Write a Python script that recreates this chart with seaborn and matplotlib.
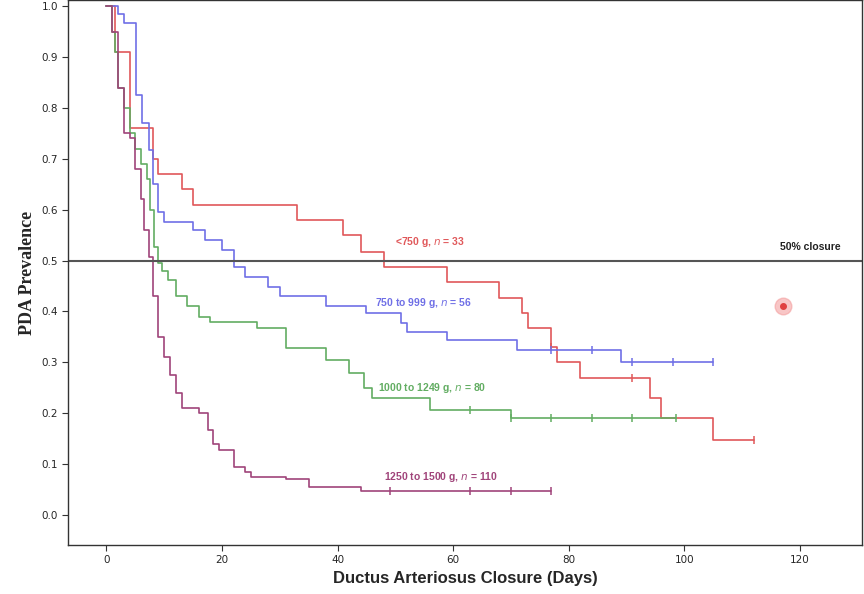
import numpy as np
import pandas as pd
import matplotlib
matplotlib.use("Agg")
import matplotlib.pyplot as plt
import seaborn as sns

# Kaplan-Meier style curves: event times (days) and prevalence after each step
red_t = [0, 1.5, 4, 8.1, 9, 13, 15, 33, 41, 44, 48, 59, 68, 72, 73, 77, 78, 82, 94, 96, 105, 112]
red_v = [1.0, 0.91, 0.76, 0.70, 0.67, 0.64, 0.61, 0.58, 0.55, 0.517, 0.487, 0.458, 0.426, 0.397,
         0.367, 0.33, 0.30, 0.27, 0.23, 0.19, 0.147, 0.147]
red_c = [77, 91, 112]

blue_t = [0, 2, 3, 5.2, 6.2, 7.3, 8, 9, 10, 15, 17, 20, 22, 24, 28, 30, 38, 45, 51, 52, 59, 71, 89, 105]
blue_v = [1.0, 0.985, 0.967, 0.825, 0.77, 0.717, 0.65, 0.595, 0.576, 0.56, 0.54, 0.52, 0.487,
          0.468, 0.448, 0.43, 0.41, 0.396, 0.377, 0.36, 0.344, 0.324, 0.30, 0.30]
blue_c = [77, 84, 91, 98, 105]

green_t = [0, 1, 1.5, 2, 3, 4, 5, 6, 7, 7.6, 8.2, 9, 9.7, 10.7, 12, 14, 16, 18, 26, 31, 38, 42,
           44.5, 46, 56, 70, 98.5]
green_v = [1.0, 0.95, 0.91, 0.84, 0.80, 0.75, 0.72, 0.69, 0.66, 0.60, 0.527, 0.495, 0.48, 0.462,
           0.43, 0.41, 0.39, 0.38, 0.367, 0.328, 0.305, 0.279, 0.25, 0.23, 0.206, 0.19, 0.19]
green_c = [63, 70, 77, 84, 91, 98.5]

purple_t = [0, 1, 2, 3, 4, 5, 6, 6.5, 7.3, 8, 9, 10, 11, 12, 13, 16, 17.5, 18.4, 19.5, 22, 24, 25,
            31, 35, 44, 77]
purple_v = [1.0, 0.95, 0.84, 0.75, 0.74, 0.68, 0.62, 0.56, 0.507, 0.43, 0.35, 0.31, 0.275, 0.24,
            0.21, 0.20, 0.167, 0.14, 0.128, 0.095, 0.085, 0.075, 0.07, 0.055, 0.047, 0.047]
purple_c = [49, 63, 70, 77]

groups = [
    ("<750 g, ", "33", red_t, red_v, red_c, "#e0585a", (50, 0.53)),
    ("750 to 999 g, ", "56", blue_t, blue_v, blue_c, "#6f6fe6", (46.5, 0.41)),
    ("1000 to 1249 g, ", "80", green_t, green_v, green_c, "#62ad62", (47, 0.243)),
    ("1250 to 1500 g, ", "110", purple_t, purple_v, purple_c, "#a0447a", (48, 0.068)),
]

sns.set_style("white")
fig = plt.figure(figsize=(8.64, 5.94), dpi=100)
ax = fig.add_axes([0.079, 0.0825, 0.919, 0.9175])

for label, n, t, v, cens, color, pos in groups:
    df = pd.DataFrame({"day": t, "prev": v})
    sns.lineplot(data=df, x="day", y="prev", drawstyle="steps-post", color=color, lw=1.2, ax=ax)
    cy = [v[np.searchsorted(t, c, side="right") - 1] for c in cens]
    ax.plot(cens, cy, ls="none", marker="|", ms=5.5, mew=1.1, color=color)
    ax.text(pos[0], pos[1], label + r"$\it{n}$ = " + n, color=color, fontsize=7.5,
            fontweight="bold", family="Liberation Sans")

ax.axhline(0.5, color="#555555", lw=1.5)
ax.text(127, 0.52, "50% closure", ha="right", fontsize=7.5, fontweight="bold",
        family="Liberation Sans", color="#222222")
ax.plot([117], [0.41], "o", ms=12, color="#f4a0a0", alpha=0.6)
ax.plot([117], [0.41], "o", ms=4, color="#e04040")

ax.set_xlim(-6.6, 130.8)
ax.set_ylim(-0.059, 1.012)
ax.set_xticks(range(0, 121, 20))
ax.set_yticks(np.round(np.arange(0, 1.01, 0.1), 1))
ax.set_yticklabels([f"{y:.1f}" for y in np.arange(0, 1.01, 0.1)])
ax.tick_params(axis="both", labelsize=7.5, length=4, direction="out", color="#333333",
               left=True, bottom=True)
for s in ax.spines.values():
    s.set_color("#333333")
    s.set_linewidth(1.0)
ax.set_xlabel("Ductus Arteriosus Closure (Days)", fontsize=12, fontweight="bold",
              family="Liberation Sans")
ax.set_ylabel("PDA Prevalence", fontsize=13, fontweight="bold", family="Liberation Serif")
fig.savefig("out.png", dpi=100)
